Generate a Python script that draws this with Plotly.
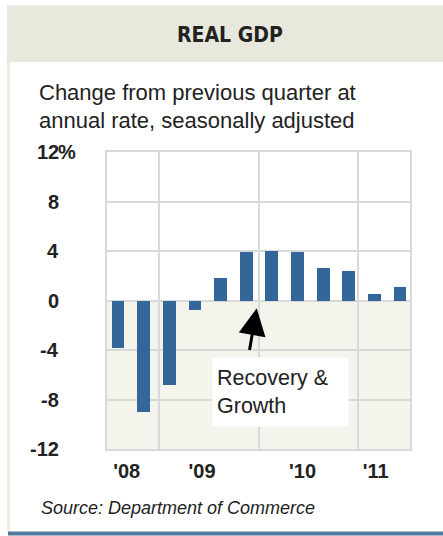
import plotly.graph_objects as go

# ---- data ----
quarters = ["2008 Q3", "2008 Q4", "2009 Q1", "2009 Q2", "2009 Q3", "2009 Q4",
            "2010 Q1", "2010 Q2", "2010 Q3", "2010 Q4", "2011 Q1", "2011 Q2"]
gdp_change = [-3.8, -9.0, -6.8, -0.8, 1.8, 3.9, 4.0, 3.9, 2.6, 2.4, 0.5, 1.1]
y_ticks = [12, 8, 4, 0, -4, -8, -12]
year_labels = ["'08", "'09", "'10", "'11"]

# ---- layout / style constants ----
W, H = 443, 536
ML, MR, MT, MB = 107, 33, 151.7, 86.7
PW, PH = W - ML - MR, H - MT - MB
X_RANGE = [-0.43, 11.39]
Y_RANGE = [-12, 12]
year_label_pos = [0.34, 3.28, 7.2, 10.05]
year_div_pos = [1.61, 5.5, 9.37]

BAR = "#336699"
GRID = "#d9d9d9"
BEIGE = "#f4f4ec"
HEADER = "#e8e8dc"
TXT = "#222222"
SANS = "Liberation Sans, Arial, Helvetica, sans-serif"


def px_x(px):
    return (px - ML) / PW


def px_y(py):
    return 1 - (py - MT) / PH


x_pos = list(range(len(quarters)))

fig = go.Figure()
fig.add_trace(go.Bar(
    x=x_pos, y=gdp_change, width=0.5,
    marker=dict(color=BAR, line=dict(width=0)),
    customdata=quarters,
    hovertemplate="%{customdata}: %{y}%<extra></extra>",
))

shapes = [
    # beige negative region
    dict(type="rect", xref="paper", yref="y", x0=0, x1=1, y0=Y_RANGE[0], y1=0,
         fillcolor=BEIGE, line=dict(width=0), layer="below"),
    # header band
    dict(type="rect", xref="paper", yref="paper", x0=px_x(7), x1=px_x(W),
         y0=px_y(61.5), y1=px_y(5), fillcolor=HEADER, line=dict(width=0)),
    # left panel border
    dict(type="rect", xref="paper", yref="paper", x0=px_x(7), x1=px_x(10),
         y0=px_y(532), y1=px_y(61.5), fillcolor="#ecece2", line=dict(width=0)),
    # bottom rule
    dict(type="rect", xref="paper", yref="paper", x0=px_x(8), x1=px_x(W),
         y0=px_y(H), y1=px_y(532), fillcolor="#557aa0", line=dict(width=0)),
]

annotations = [
    dict(text="<b>REAL GDP</b>", x=px_x(230), y=px_y(34), xref="paper", yref="paper",
         xanchor="center", yanchor="middle", showarrow=False,
         font=dict(family="Liberation Sans Narrow, DejaVu Sans Condensed, sans-serif",
                   size=21, color=TXT)),
    dict(text="Change from previous quarter at", x=px_x(37), y=px_y(92),
         xref="paper", yref="paper", xanchor="left", yanchor="middle",
         showarrow=False, font=dict(family=SANS, size=22, color=TXT)),
    dict(text="annual rate, seasonally adjusted", x=px_x(37), y=px_y(120),
         xref="paper", yref="paper", xanchor="left", yanchor="middle",
         showarrow=False, font=dict(family=SANS, size=22, color=TXT)),
    dict(text="<i>Source: Department of Commerce</i>", x=px_x(39), y=px_y(508),
         xref="paper", yref="paper", xanchor="left", yanchor="middle",
         showarrow=False, font=dict(family=SANS, size=18, color=TXT)),
    # arrow
    dict(x=5.41, y=-0.63, ax=5.12, ay=-4.13, xref="x", yref="y", axref="x", ayref="y",
         text="", showarrow=True, arrowhead=2, arrowsize=1.8, arrowwidth=3,
         arrowcolor="#000000"),
    # text box
    dict(text="Recovery &amp;<br>Growth", x=6.35, y=-7.42, xref="x", yref="y",
         xanchor="center", yanchor="middle", showarrow=False, align="left",
         width=127, height=60, borderpad=4, bgcolor="#ffffff",
         font=dict(family=SANS, size=21.5, color=TXT)),
]

# y tick labels (numbers right aligned, % hanging)
for v in y_ticks:
    annotations.append(dict(text=f"<b>{v}</b>", x=px_x(61), y=v, xref="paper", yref="y",
                            xanchor="right", yanchor="middle", showarrow=False,
                            font=dict(family=SANS, size=20, color=TXT)))
annotations.append(dict(text="<b>%</b>", x=px_x(56), y=max(y_ticks), xref="paper", yref="y",
                        xanchor="left", yanchor="middle", showarrow=False,
                        font=dict(family=SANS, size=20, color=TXT)))

fig.update_layout(
    width=W, height=H,
    margin=dict(l=ML, r=MR, t=MT, b=MB, pad=0),
    paper_bgcolor="#ffffff", plot_bgcolor="#ffffff",
    showlegend=False, bargap=0,
    shapes=shapes, annotations=annotations,
    xaxis=dict(range=X_RANGE, tickmode="array", tickvals=year_label_pos,
               ticktext=year_labels, showgrid=False, zeroline=False, ticks="",
               tickfont=dict(family=SANS, size=20, color=TXT, weight="bold"),
               ticklabelstandoff=3,
               showline=True, mirror=True, linecolor=GRID, linewidth=2,
               minor=dict(tickmode="array", tickvals=year_div_pos, showgrid=True,
                          gridcolor=GRID, gridwidth=2, ticks="")),
    yaxis=dict(range=Y_RANGE, tickmode="array", tickvals=y_ticks, showticklabels=False,
               showgrid=True, gridcolor=GRID, gridwidth=2, zeroline=False, ticks="",
               showline=True, mirror=True, linecolor=GRID, linewidth=2),
)

fig.write_html("out.html", config={"displayModeBar": False},
               post_script="document.body.style.margin='0';document.body.style.overflow='hidden';")
